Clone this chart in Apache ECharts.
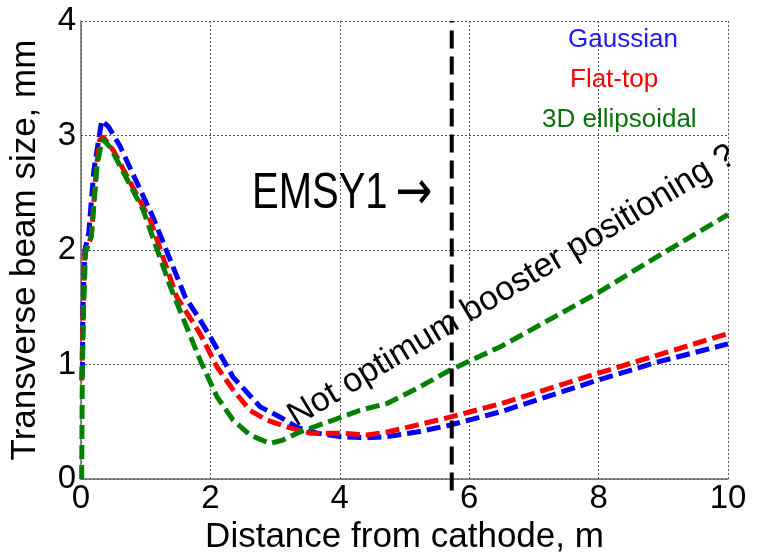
<!DOCTYPE html>
<html>
<head>
<meta charset="utf-8">
<script src="https://cdn.jsdelivr.net/npm/echarts@6/dist/echarts.min.js"></script>
<style>html,body{margin:0;padding:0;background:#fff}#c{width:759px;height:556px}</style>
</head>
<body>
<div id="c"></div>
<script>
var xTicks = [0, 2, 4, 6, 8, 10];
var yTicks = [0, 1, 2, 3, 4];
var gaussian = [[0.02,0.9],[0.03,1.5],[0.06,2.0],[0.12,2.15],[0.2,2.7],[0.32,3.13],[0.42,3.08],[0.6,2.91],[1.11,2.29],[1.61,1.59],[1.84,1.39],[2.0,1.24],[2.35,0.89],[2.77,0.63],[3.08,0.54],[3.34,0.45],[3.65,0.40],[4.0,0.37],[4.42,0.36],[4.73,0.37],[5.19,0.41],[5.7,0.47],[6.5,0.59],[7.97,0.86],[8.9,1.02],[10,1.18]];
var flatTop = [[0.01,0.86],[0.03,1.4],[0.06,1.97],[0.16,2.12],[0.24,2.73],[0.29,2.96],[0.34,2.99],[0.5,2.87],[1.07,2.26],[1.48,1.59],[1.84,1.27],[2.1,0.98],[2.35,0.78],[2.61,0.60],[2.87,0.515],[3.18,0.455],[3.54,0.40],[4.0,0.40],[4.42,0.385],[4.73,0.41],[5.19,0.47],[5.7,0.54],[6.5,0.66],[7.97,0.92],[8.9,1.08],[10,1.27]];
var ellipsoidal = [[0.01,0],[0.02,0.9],[0.04,1.5],[0.07,1.98],[0.16,2.12],[0.25,2.75],[0.33,2.97],[0.45,2.90],[0.96,2.35],[1.38,1.68],[1.84,1.04],[2.1,0.72],[2.35,0.515],[2.61,0.385],[2.92,0.31],[3.12,0.34],[3.38,0.41],[3.9,0.515],[4.31,0.60],[4.73,0.66],[5.19,0.79],[5.7,0.95],[6.5,1.16],[7.97,1.62],[8.9,1.94],[10,2.31]];
var emsy1 = [[5.73,-0.1],[5.73,4]];
var names = ['Gaussian', 'Flat-top', '3D ellipsoidal'];
var colors = ['#0000ff', '#ff0000', '#008000'];
var textColors = ['#1a1aff', '#ff0000', '#0a700a'];

var chart = echarts.init(document.getElementById('c'), null, {renderer: 'canvas'});
var font = 'Liberation Sans, Arial, sans-serif';
function mkSeries(name, data, color) {
  return {
    name: name, type: 'line', data: data, showSymbol: false, symbol: 'none',
    lineStyle: {color: color, width: 5, type: [14, 6]},
    itemStyle: {color: color}, z: 3, animation: false
  };
}
var legendPos = [{left: 558, top: 22}, {left: 560, top: 62}, {left: 532, top: 102}];
chart.setOption({
  animation: false,
  grid: {left: 81, right: 31, top: 21, bottom: 77, containLabel: false, outerBoundsMode: 'none'},
  legend: names.map(function (n, i) {
    return {
      data: [{name: n, textStyle: {color: textColors[i]}}],
      left: legendPos[i].left, top: legendPos[i].top,
      icon: 'none', itemWidth: 0, itemGap: 0, selectedMode: false,
      textStyle: {fontSize: 26, fontFamily: font}
    };
  }),
  xAxis: {
    type: 'value', min: xTicks[0], max: xTicks[xTicks.length - 1], interval: 2,
    name: 'Distance from cathode, m', nameLocation: 'middle', nameGap: 39,
    nameTextStyle: {fontSize: 35, fontFamily: font, color: '#000'},
    axisLine: {show: true, onZero: false, lineStyle: {color: '#666', width: 1.5}},
    axisTick: {show: false},
    axisLabel: {fontSize: 33, fontFamily: font, color: '#000', margin: 3},
    splitLine: {show: true, lineStyle: {color: '#555', width: 1, type: [2, 2]}}
  },
  yAxis: {
    type: 'value', min: yTicks[0], max: yTicks[yTicks.length - 1], interval: 1,
    name: 'Transverse beam size, mm', nameLocation: 'middle', nameGap: 38,
    nameTextStyle: {fontSize: 35, fontFamily: font, color: '#000'},
    axisLine: {show: true, onZero: false, lineStyle: {color: '#666', width: 1.5}},
    axisTick: {show: false},
    axisLabel: {fontSize: 33, fontFamily: font, color: '#000', margin: 5},
    splitLine: {show: true, lineStyle: {color: '#555', width: 1, type: [2, 2]}}
  },
  series: [
    mkSeries(names[0], gaussian, colors[0]),
    mkSeries(names[1], flatTop, colors[1]),
    mkSeries(names[2], ellipsoidal, colors[2]),
    {
      name: 'EMSY1', type: 'line', data: emsy1, showSymbol: false, symbol: 'none', clip: false,
      lineStyle: {color: '#000', width: 4, type: [18, 8]}, z: 4, animation: false
    }
  ],
  graphic: [
    {
      type: 'text', left: 252, top: 167, scaleY: 1.25, z: 10,
      style: {
        text: '{a|EMSY1}{b|\u2192}', fontFamily: font, fill: '#000',
        rich: {a: {fontSize: 40, fontFamily: font, fill: '#000'}, b: {fontSize: 44, fontFamily: 'DejaVu Sans', fill: '#000', padding: [0, 0, 0, 8]}}
      }
    },
    {
      type: 'text', x: 512, y: 286, rotation: 31 * Math.PI / 180, z: 10,
      style: {text: 'Not optimum booster positioning ?', fontSize: 34, fontFamily: font, fill: '#000',
        align: 'center', verticalAlign: 'middle'}
    }
  ]
});
</script>
</body>
</html>
